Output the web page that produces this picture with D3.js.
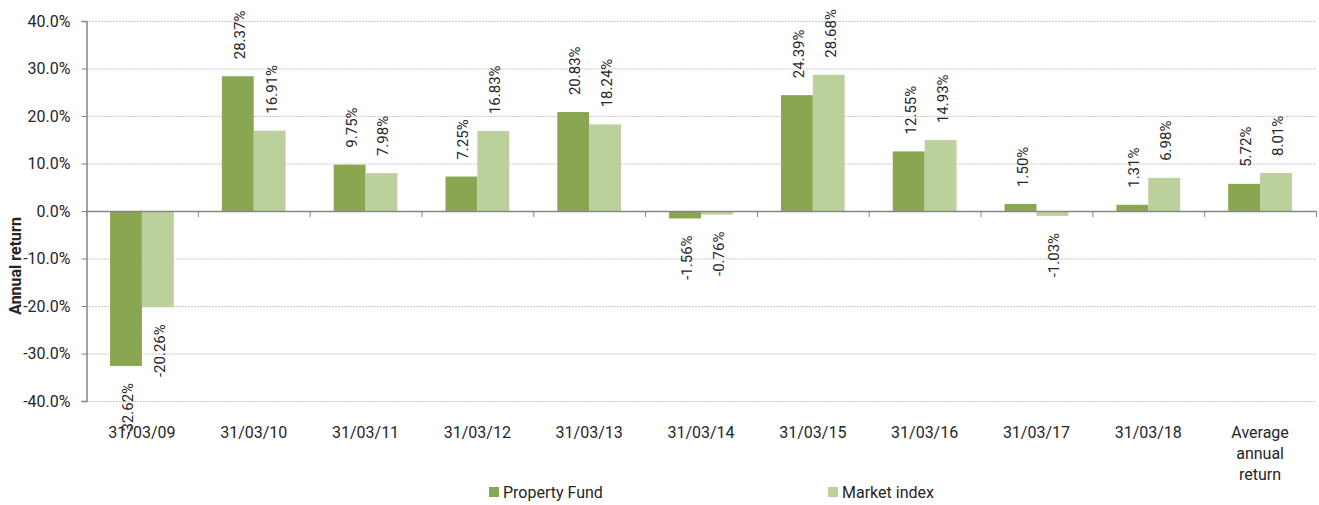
<!DOCTYPE html>
<html>
<head>
<meta charset="utf-8">
<script src="https://cdn.jsdelivr.net/npm/d3@7"></script>
<style>
  body { margin: 0; background: #fff; }
  text { font-family: Roboto, "Noto Sans", sans-serif; fill: #262626; }
</style>
</head>
<body>
<div id="vizcontainer"></div>
<script>
const width = 1319,
  height = 505;

const categories = ['31/03/09', '31/03/10', '31/03/11', '31/03/12', '31/03/13', '31/03/14',
  '31/03/15', '31/03/16', '31/03/17', '31/03/18', 'Average annual return'];
const seriesNames = ['Property Fund', 'Market index'];
const propertyFund = [-32.62, 28.37, 9.75, 7.25, 20.83, -1.56, 24.39, 12.55, 1.50, 1.31, 5.72];
const marketIndex = [-20.26, 16.91, 7.98, 16.83, 18.24, -0.76, 28.68, 14.93, -1.03, 6.98, 8.01];
const yTicks = [-40, -30, -20, -10, 0, 10, 20, 30, 40];
const colors = ['#8aa650', '#bbd09a'];

const margin = { left: 86, right: 3, top: 21, bottom: 104 };

const viz = d3.select('#vizcontainer')
  .append('svg')
  .attr('width', width)
  .attr('height', height);

const x = d3.scaleBand()
  .domain(categories)
  .range([margin.left, width - margin.right])
  .paddingInner(0.43)
  .paddingOuter(0.215);

const xs = d3.scaleBand()
  .domain(seriesNames)
  .range([0, x.bandwidth()]);

const y = d3.scaleLinear()
  .domain([-40, 40])
  .range([height - margin.bottom, margin.top]);

// gridlines
viz.append('g')
  .selectAll('line')
  .data(yTicks.filter(d => d !== 0))
  .join('line')
  .attr('x1', margin.left)
  .attr('x2', width - margin.right)
  .attr('y1', d => y(d) + 0.5)
  .attr('y2', d => y(d) + 0.5)
  .attr('stroke', '#c8c8c8')
  .attr('stroke-dasharray', '2,1');

// y axis
const yAxis = viz.append('g')
  .attr('transform', `translate(${margin.left + 0.5},0)`)
  .call(d3.axisLeft(y).tickValues(yTicks).tickSize(5).tickFormat(d => d.toFixed(1) + '%'));
yAxis.select('.domain').attr('stroke', '#868686').attr('stroke-width', 1.5);
yAxis.selectAll('.tick line').attr('stroke', '#868686');
yAxis.selectAll('.tick text')
  .attr('font-size', 16)
  .attr('font-family', 'Roboto, sans-serif')
  .attr('x', -16)
  .attr('fill', '#262626');

viz.append('text')
  .attr('transform', `translate(21,266) rotate(-90)`)
  .attr('text-anchor', 'middle')
  .attr('font-size', 16)
  .attr('font-weight', 'bold')
  .text('Annual return');

// bars
const rows = categories.map((c, i) => ({ cat: c, vals: [propertyFund[i], marketIndex[i]] }));

const groups = viz.append('g')
  .selectAll('g')
  .data(rows)
  .join('g')
  .attr('transform', d => `translate(${x(d.cat)},0)`);

groups.selectAll('rect')
  .data(d => d.vals.map((v, j) => ({ v, s: seriesNames[j], j })))
  .join('rect')
  .attr('x', d => xs(d.s))
  .attr('width', xs.bandwidth())
  .attr('y', d => Math.min(y(d.v), y(0)))
  .attr('height', d => Math.abs(y(d.v) - y(0)))
  .attr('fill', d => colors[d.j]);

groups.selectAll('text')
  .data(d => d.vals.map((v, j) => ({ v, s: seriesNames[j], j })))
  .join('text')
  .attr('transform', d => {
    const cx = xs(d.s) + xs.bandwidth() / 2 + 7;
    const cy = d.v >= 0 ? y(d.v) - 17 : y(d.v) + 17;
    return `translate(${cx},${cy}) rotate(-90)`;
  })
  .attr('text-anchor', d => d.v >= 0 ? 'start' : 'end')
  .attr('font-size', 15)
  .text(d => d.v.toFixed(2) + '%');

// zero line with category ticks
viz.append('line')
  .attr('x1', margin.left)
  .attr('x2', width - margin.right)
  .attr('y1', y(0) + 0.5)
  .attr('y2', y(0) + 0.5)
  .attr('stroke', '#868686')
  .attr('stroke-width', 1.5);

const step = x.step();
viz.append('g')
  .selectAll('line')
  .data(d3.range(categories.length + 1))
  .join('line')
  .attr('x1', i => margin.left + i * step + 0.5)
  .attr('x2', i => margin.left + i * step + 0.5)
  .attr('y1', y(0))
  .attr('y2', y(0) + 6)
  .attr('stroke', '#868686');

// category labels
const catLabels = viz.append('g')
  .selectAll('text')
  .data(categories)
  .join('text')
  .attr('x', d => x(d) + x.bandwidth() / 2)
  .attr('y', 438)
  .attr('text-anchor', 'middle')
  .attr('font-size', 16);

catLabels.each(function (d) {
  const t = d3.select(this);
  const lines = d === 'Average annual return' ? ['Average', 'annual', 'return'] : [d];
  lines.forEach((ln, i) => {
    t.append('tspan')
      .attr('x', x(d) + x.bandwidth() / 2)
      .attr('dy', i === 0 ? 0 : 21)
      .text(ln);
  });
});

// legend
const legendX = [489, 828];
const legend = viz.append('g')
  .selectAll('g')
  .data(seriesNames)
  .join('g')
  .attr('transform', (d, i) => `translate(${legendX[i]},487)`);

legend.append('rect')
  .attr('width', 10)
  .attr('height', 10)
  .attr('fill', (d, i) => colors[i]);

legend.append('text')
  .attr('x', 14)
  .attr('y', 11)
  .attr('font-size', 16)
  .text(d => d);
</script>
</body>
</html>
